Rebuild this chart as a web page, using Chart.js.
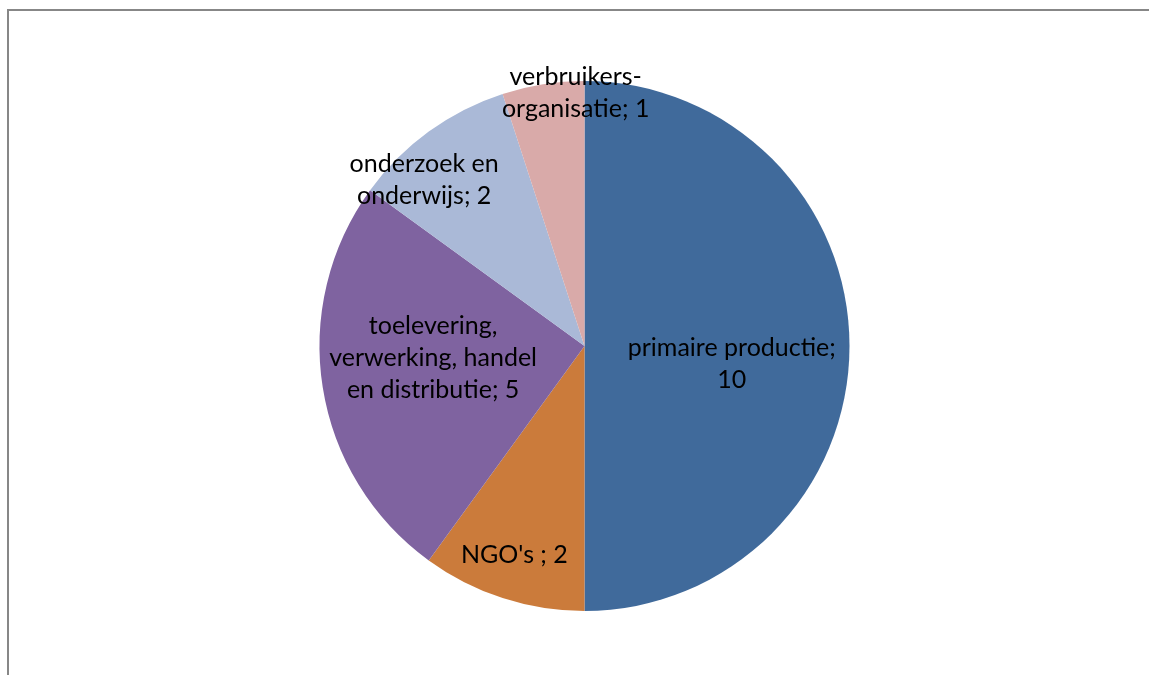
<!DOCTYPE html>
<html>
<head>
<meta charset="utf-8">
<script src="https://cdn.jsdelivr.net/npm/chart.js@4.4.1/dist/chart.umd.min.js"></script>
<style>
    html, body { margin: 0; padding: 0; background: #fff; }
    #wrap { position: relative; width: 1149px; height: 675px; overflow: hidden; }
    #frame { position: absolute; left: 7px; top: 9px; right: -5px; bottom: -5px; border-left: 2px solid #878787; border-top: 2px solid #878787; }
    #pieChart { position: absolute; left: 0; top: 0; }
</style>
</head>
<body>
<div id="wrap">
    <div id="frame"></div>
    <canvas id="pieChart" width="1149" height="675"></canvas>
</div>
<script>
// data van de grafiek
const categories = ["primaire productie", "NGO's ", "toelevering, verwerking, handel en distributie", "onderzoek en onderwijs", "verbruikers-organisatie"];
const values = [10, 2, 5, 2, 1];
const colors = ["#406A9B", "#CB7B3B", "#7F63A0", "#AAB9D7", "#D9AAA9"];

// plaats van het label: deel van de straal en draaiing t.o.v. het midden van de sector (graden)
const labelRadius = [0.56, 0.83, 0.573, 0.871, 0.955];
const labelTurn = [7, 0.6, 4.5, -8, 7];
const labelFont = "25px Lato";
const lineHeight = 32;
const wrapWidth = 225;

// tekst opknippen zoals Excel dat doet
function wrapLabel(ctx, text) {
    let tokens = text.match(/[^\s-]+-?\s*|\s+/g);
    let lines = [];
    let cur = "";
    tokens.forEach(t => {
        let test = cur + t;
        if (cur && ctx.measureText(test.trim()).width > wrapWidth) {
            lines.push(cur.trim());
            cur = t;
        } else {
            cur = test;
        }
    });
    if (cur.trim()) lines.push(cur.trim());
    return lines;
}

const labelPlugin = {
    id: "sliceLabels",
    afterDatasetsDraw(chart) {
        let ctx = chart.ctx;
        let meta = chart.getDatasetMeta(0);
        ctx.save();
        ctx.font = labelFont;
        ctx.fillStyle = "#000";
        ctx.textAlign = "center";
        ctx.textBaseline = "middle";
        meta.data.forEach((arc, i) => {
            let p = arc.getProps(["x", "y", "startAngle", "endAngle", "outerRadius"]);
            let mid = (p.startAngle + p.endAngle) / 2 + labelTurn[i] * Math.PI / 180;
            let r = p.outerRadius * labelRadius[i];
            let cx = p.x + Math.cos(mid) * r;
            let cy = p.y + Math.sin(mid) * r;
            let lines = wrapLabel(ctx, categories[i] + "; " + values[i]);
            let y0 = cy - (lines.length - 1) * lineHeight / 2;
            lines.forEach((l, j) => ctx.fillText(l, cx, y0 + j * lineHeight));
        });
        ctx.restore();
    },
};

let pieCan = document.getElementById("pieChart").getContext("2d");
var pieChart = new Chart(pieCan, {
    type: "pie",
    data: {
        labels: categories,
        datasets: [{
            data: values,
            backgroundColor: colors,
            borderWidth: 0,
        }, ],
    },
    options: {
        responsive: false,
        animation: false,
        layout: {
            padding: { left: 20, right: 0, top: 81, bottom: 64 },
        },
        plugins: {
            legend: { display: false },
            tooltip: { enabled: false },
        },
    },
    plugins: [labelPlugin],
});
</script>
</body>
</html>
